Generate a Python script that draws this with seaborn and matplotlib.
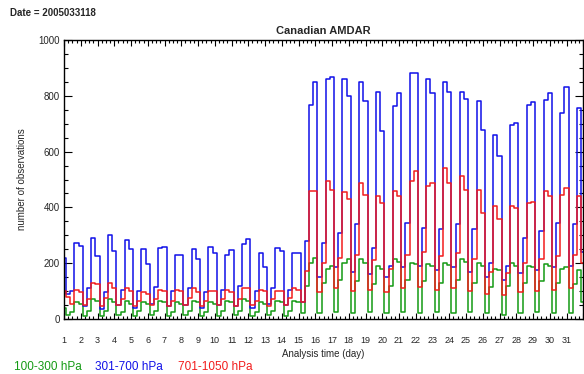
import numpy as np
import pandas as pd
import matplotlib
matplotlib.use("Agg")
import matplotlib.pyplot as plt
import seaborn as sns
from matplotlib.ticker import MultipleLocator, FixedLocator

# ---- data: observations per 6-hourly analysis (00,06,12,18 UTC), day 1 .. day 32 00Z
green_100_300 = [
    40, 15, 25, 60,   55, 10, 30, 70,   65, 12, 30, 70,   60, 15, 25, 65,
    55, 10, 30, 60,   55, 15, 30, 65,   60, 10, 25, 60,   55, 15, 30, 65,
    60, 10, 25, 60,   55, 12, 30, 65,   60, 15, 30, 70,   65, 10, 25, 60,
    55, 15, 30, 65,   60, 12, 30, 65,   60, 20, 120, 202,
    220, 20, 130, 179,  190, 25, 140, 202,  214, 20, 135, 214,  200, 25, 125, 190,
    180, 20, 120, 214,  205, 25, 140, 202,  196, 20, 135, 196,  190, 25, 130, 200,
    195, 20, 140, 214,  205, 25, 130, 202,  190, 20, 115, 179,  175, 15, 120, 202,
    190, 20, 130, 190,  185, 25, 135, 196,  190, 20, 130, 179,  185, 20, 125, 175,
    60,
]
blue_301_700 = [
    220, 90, 100, 274,  262, 45, 110, 292,  226, 36, 95, 301,   244, 50, 105, 283,
    250, 40, 100, 250,  196, 55, 115, 256,  259, 45, 100, 230,  230, 50, 110, 250,
    214, 40, 95, 259,   236, 50, 105, 230,  248, 45, 120, 268,  288, 40, 100, 236,
    185, 55, 110, 256,  244, 50, 105, 236,  236, 60, 279, 768,
    851, 150, 274, 860,  869, 185, 310, 860,  800, 170, 339, 851,  780, 160, 256, 815,
    673, 150, 190, 762,  810, 185, 345, 883,  883, 190, 327, 860,  810, 175, 321, 851,
    815, 185, 339, 815,  790, 170, 321, 780,  679, 150, 202, 661,  583, 140, 190, 696,
    702, 165, 292, 768,  776, 175, 315, 786,  810, 185, 345, 738,  833, 190, 339, 757,
    240,
]
red_701_1050 = [
    100, 80, 55, 105,   95, 50, 70, 128,   125, 45, 75, 130,   110, 50, 70, 110,
    100, 45, 65, 95,    90, 50, 70, 105,   100, 45, 65, 105,   100, 50, 75, 110,
    95, 45, 65, 100,    100, 50, 70, 105,  95, 45, 70, 110,    110, 50, 65, 105,
    100, 45, 70, 100,   100, 50, 75, 110,  105, 60, 172, 458,
    458, 95, 200, 494,  464, 110, 220, 455,  430, 100, 230, 488,  446, 105, 210, 440,
    417, 95, 180, 458,  440, 110, 230, 494,  529, 115, 240, 476,  488, 105, 225, 542,
    488, 110, 235, 512,  464, 100, 215, 464,  381, 90, 170, 405,  360, 85, 165, 405,
    399, 95, 200, 417,  419, 100, 215, 458,  440, 105, 225, 446,  470, 110, 230, 440,
    200,
]
day_ticks = list(range(1, 33))
day_labels = [str(d) for d in range(1, 32)] + [""]
layers = ["100-300 hPa", "301-700 hPa", "701-1050 hPa"]
colors = ["#149a14", "#1010e8", "#f21c1c"]

n = len(blue_301_700)
times = 1 + np.arange(n) / 4.0

df = pd.DataFrame({
    "time": np.tile(times, 3),
    "count": green_100_300 + blue_301_700 + red_701_1050,
    "layer": np.repeat(layers, n),
})

sns.set_style("ticks")
plt.rcParams["font.family"] = ["Liberation Sans", "DejaVu Sans"]

fig = plt.figure(figsize=(5.84, 3.74), dpi=100)
ax = fig.add_axes([64 / 584, 1 - 319 / 374, (583.3 - 64) / 584, (319 - 40) / 374])

sns.lineplot(data=df, x="time", y="count", hue="layer", hue_order=layers,
             palette=colors, drawstyle="steps-mid", estimator=None,
             legend=False, linewidth=1.1, ax=ax)

ax.set_xlim(1, 32)
ax.set_ylim(0, 1000)
ax.xaxis.set_major_locator(FixedLocator(day_ticks))
ax.set_xticklabels(day_labels)
ax.xaxis.set_minor_locator(MultipleLocator(0.25))
ax.yaxis.set_major_locator(MultipleLocator(200))
ax.yaxis.set_minor_locator(MultipleLocator(50))
ax.tick_params(which="both", direction="in", top=True, right=True,
               color="black", width=0.8)
ax.tick_params(axis="x", which="major", length=4, pad=12, labelsize=6.5)
ax.tick_params(axis="x", which="minor", length=2)
ax.tick_params(axis="y", which="major", length=6, pad=3, labelsize=7)
ax.tick_params(axis="y", which="minor", length=3)
for s in ax.spines.values():
    s.set_visible(True)
    s.set_linewidth(1.0)
    s.set_color("black")

ax.set_xlabel("Analysis time (day)", fontsize=7, labelpad=3)
ax.set_ylabel("number of observations", fontsize=7, labelpad=8)
ax.set_title("Canadian AMDAR", fontsize=8, fontweight="bold", pad=4)

fig.text(10 / 584, 1 - 13 / 374, "Date = 2005033118", fontsize=7,
         ha="left", va="center", fontweight="bold")

for lab, col, xpos in zip(layers, colors, [14, 95, 178]):
    fig.text(xpos / 584, 1 - 367 / 374, lab, color=col, fontsize=8.5,
             ha="left", va="center")

fig.savefig("out.png", dpi=100)
